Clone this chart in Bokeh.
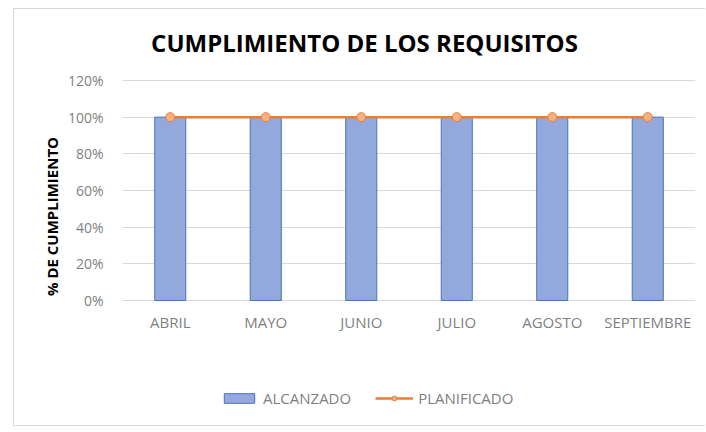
from bokeh.plotting import figure
from bokeh.models import (ColumnDataSource, NumeralTickFormatter, FixedTicker, Legend,
                          LegendItem, Title, Label)
from bokeh.embed import file_html
from bokeh.resources import INLINE

months = ["ABRIL", "MAYO", "JUNIO", "JULIO", "AGOSTO", "SEPTIEMBRE"]
alcanzado = [1.0, 1.0, 1.0, 1.0, 1.0, 1.0]
planificado = [1.0, 1.0, 1.0, 1.0, 1.0, 1.0]
y_ticks = [0, 0.2, 0.4, 0.6, 0.8, 1.0, 1.2]

src = ColumnDataSource(dict(m=months, a=alcanzado, p=planificado))

FONT = "Open Sans"
GREY = "#7f7f7f"

# the frame spans the whole height so that title and legend can sit inside it
p = figure(x_range=months, y_range=(-0.671, 1.587), width=692, height=418,
           output_backend="svg", toolbar_location=None,
           min_border_left=108, min_border_right=11, min_border_top=0,
           min_border_bottom=4)
p.title.visible = False
p.styles = {"margin-left": "13px", "margin-top": "8px",
            "border-left": "1px solid #d9d9d9",
            "border-top": "1px solid #d9d9d9",
            "border-bottom": "1px solid #d9d9d9"}
p.outline_line_color = None
p.background_fill_color = "white"
p.border_fill_color = "white"

title = Label(text="CUMPLIMIENTO DE LOS REQUISITOS", x=242, y=381,
              x_units="screen", y_units="screen",
              text_align="center", text_baseline="middle",
              text_font=FONT, text_font_size="24px", text_font_style="bold",
              text_color="#000000")
p.add_layout(title)

ylab = Title(text="% DE CUMPLIMIENTO", align="center",
             text_font=FONT, text_font_size="15px", text_font_style="bold",
             text_color="#000000", standoff=6)
p.add_layout(ylab, "left")

bars = p.vbar(x="m", top="a", width=0.325, source=src,
              fill_color="#93a9dc", line_color="#4472c4", line_width=1)
line = p.line(x="m", y="p", source=src, line_color="#ed7d31", line_width=2.5)
pts = p.scatter(x="m", y="p", source=src, size=9, marker="circle",
                fill_color="#f4b183", line_color="#ed7d31", line_width=1)

# category labels under the 0% line
p.text(x="m", y=0, text="m", source=src, y_offset=22, text_align="center",
       text_baseline="middle", text_color=GREY, text_font_size="15px",
       text_font={"value": FONT})

p.xaxis.visible = False

p.yaxis.ticker = FixedTicker(ticks=y_ticks)
p.yaxis.formatter = NumeralTickFormatter(format="0%")
p.yaxis.axis_line_color = None
p.yaxis.major_tick_line_color = None
p.yaxis.minor_tick_line_color = None
p.yaxis.major_label_text_color = GREY
p.yaxis.major_label_text_font = FONT
p.yaxis.major_label_text_font_size = "14px"
p.yaxis.major_label_standoff = 13

p.xgrid.grid_line_color = None
p.ygrid.grid_line_color = "#d9d9d9"
p.ygrid.grid_line_width = 1

legend = Legend(items=[LegendItem(label="ALCANZADO", renderers=[bars]),
                       LegendItem(label="PLANIFICADO", renderers=[line, pts])],
                orientation="horizontal", location=(98, 15),
                glyph_width=38, glyph_height=12, label_standoff=5, spacing=24,
                padding=0, margin=0, border_line_color=None,
                background_fill_alpha=0,
                label_text_font=FONT, label_text_font_size="15px",
                label_text_color=GREY)
p.add_layout(legend, "center")

open("out.html", "w").write(file_html(p, INLINE))
